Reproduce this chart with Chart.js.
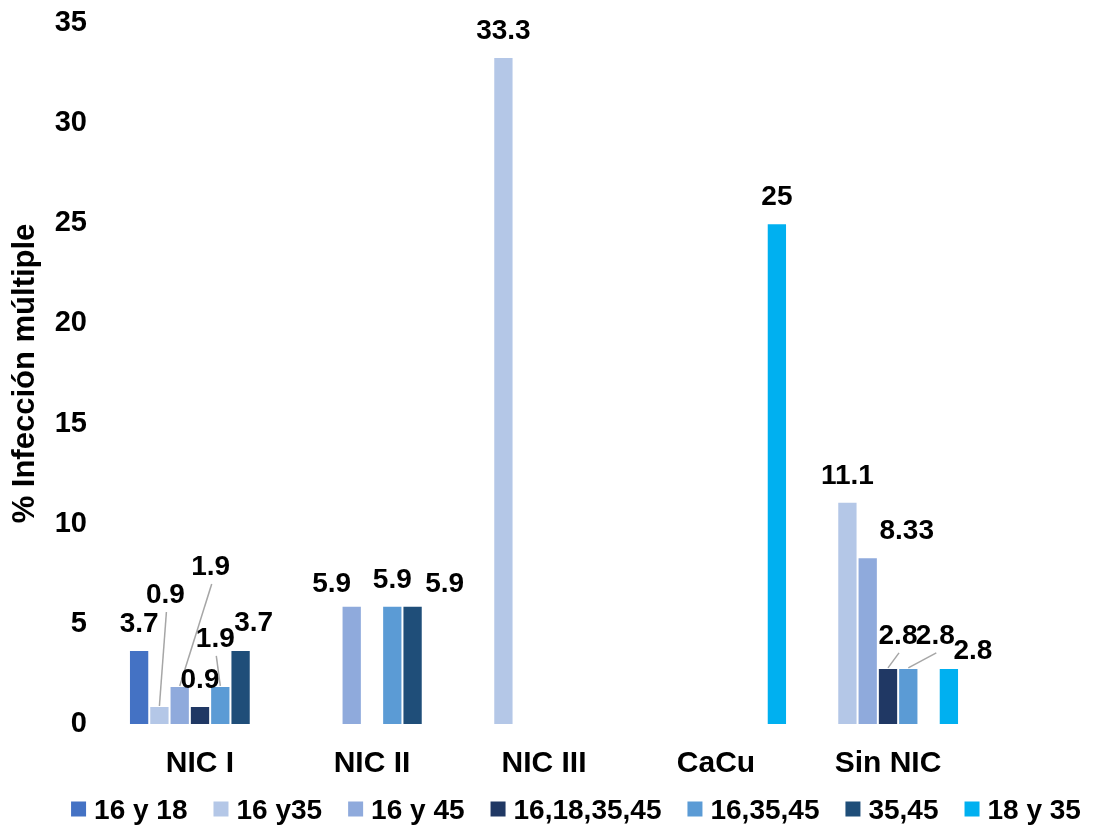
<!DOCTYPE html>
<html lang="es">
<head>
<meta charset="utf-8">
<title>% Infección múltiple por grupo</title>
<script src="https://cdn.jsdelivr.net/npm/chart.js@4/dist/chart.umd.min.js"></script>
<style>
  html, body { margin: 0; padding: 0; background: #ffffff; }
  #wrap { width: 1094px; height: 826px; }
</style>
</head>
<body>
<div id="wrap"><canvas id="chart" width="1094" height="826"></canvas></div>
<script>
// Categories (diagnóstico)
const categories = ['NIC I', 'NIC II', 'NIC III', 'CaCu', 'Sin NIC'];

// Series: % infección múltiple por combinación de genotipos
const seriesNames = ['16 y 18', '16 y35', '16 y 45', '16,18,35,45', '16,35,45', '35,45', '18 y 35'];
const v16y18      = [3.7, null, null, null, null];
const v16y35      = [0.9, null, 33.3, null, 11.1];
const v16y45      = [1.9, 5.9, null, null, 8.33];
const v16_18_35_45 = [0.9, null, null, null, 2.8];
const v16_35_45   = [1.9, 5.9, null, null, 2.8];
const v35_45      = [3.7, 5.9, null, null, null];
const v18y35      = [null, null, null, 25, 2.8];

// Y axis ticks
const yTicks = [0, 5, 10, 15, 20, 25, 30, 35];

const seriesValues = [v16y18, v16y35, v16y45, v16_18_35_45, v16_35_45, v35_45, v18y35];
const seriesColors = ['#4472C4', '#B4C7E7', '#8FAADC', '#203864', '#5B9BD5', '#1F4E79', '#00B0F0'];

const FONT = "'Liberation Sans', Arial, sans-serif";

// Label nudges (pixels) for crowded groups; key = "dataset:category"
const labelNudge = {
  '1:0': { dx: 6,  dy: -85, leader: true },
  '2:0': { dx: 31, dy: -93, leader: true },
  '4:0': { dx: -5, dy: -21, leader: true },
  '5:0': { dx: 13, dy: -1 },
  '2:1': { dx: -20, dy: 4 },
  '5:1': { dx: 32, dy: 4 },
  '2:4': { dx: 39, dy: 0 },
  '3:4': { dx: 10, dy: -6, leader: true },
  '4:4': { dx: 27, dy: -6, leader: true },
  '6:4': { dx: 24, dy: 9 }
};

// Value labels above bars, with leader lines where they are moved away
const valueLabels = {
  id: 'valueLabels',
  afterDatasetsDraw(chart) {
    const ctx = chart.ctx;
    ctx.save();
    ctx.font = 'bold 28px ' + FONT;
    ctx.textAlign = 'center';
    ctx.textBaseline = 'alphabetic';
    chart.data.datasets.forEach((ds, di) => {
      const meta = chart.getDatasetMeta(di);
      meta.data.forEach((bar, ci) => {
        const v = ds.data[ci];
        if (v === null || v === undefined) return;
        const n = labelNudge[di + ':' + ci] || { dx: 0, dy: 0 };
        const cx = bar.x + n.dx;
        const cy = bar.y - 28 + n.dy;   // visual centre of the digits
        if (n.leader) {
          ctx.strokeStyle = '#A6A6A6';
          ctx.lineWidth = 1.5;
          ctx.beginPath();
          ctx.moveTo(cx + 1, cy + 19);
          ctx.lineTo(bar.x, bar.y);
          ctx.stroke();
        }
        ctx.fillStyle = '#000000';
        ctx.fillText(String(v), cx, cy + 10);
      });
    });
    ctx.restore();
  }
};

// Legend row along the bottom
const bottomLegend = {
  id: 'bottomLegend',
  afterDraw(chart) {
    const ctx = chart.ctx;
    ctx.save();
    ctx.font = 'bold 28px ' + FONT;
    ctx.textBaseline = 'alphabetic';
    ctx.textAlign = 'left';
    const box = 15, boxGap = 8, itemGap = 26;
    const items = chart.data.datasets.map(ds => ({
      text: ds.label, color: ds.backgroundColor, w: ctx.measureText(ds.label).width
    }));
    const total = items.reduce((s, it) => s + box + boxGap + it.w, 0) + itemGap * (items.length - 1);
    let x = 576 - total / 2;
    const cy = 809;
    items.forEach(it => {
      ctx.fillStyle = it.color;
      ctx.fillRect(x, cy - box / 2, box, box);
      ctx.fillStyle = '#000000';
      ctx.fillText(it.text, x + box + boxGap, cy + 10);
      x += box + boxGap + it.w + itemGap;
    });
    ctx.restore();
  }
};

const datasets = seriesNames.map((name, i) => ({
  label: name,
  data: seriesValues[i],
  backgroundColor: seriesColors[i],
  borderColor: 'rgba(255,255,255,0.45)',
  borderWidth: 1,
  categoryPercentage: 0.826,
  barPercentage: 1.0,
  skipNull: false
}));

new Chart(document.getElementById('chart'), {
  type: 'bar',
  data: { labels: categories, datasets },
  plugins: [valueLabels, bottomLegend],
  options: {
    responsive: false,
    animation: false,
    devicePixelRatio: 1,
    layout: { padding: { top: 23, right: 120, bottom: 0, left: 0 } },
    plugins: {
      legend: { display: false },
      tooltip: { enabled: false },
      title: { display: false }
    },
    scales: {
      x: {
        grid: { display: false, drawTicks: false },
        border: { display: false },
        ticks: {
          color: '#000000',
          padding: 22,
          font: { family: FONT, size: 30, weight: 'bold' }
        },
        afterFit(scale) {
          scale.height = 102;
          scale.paddingLeft = 0;
          scale.paddingRight = 0;
        }
      },
      y: {
        min: 0,
        max: 35,
        afterBuildTicks(scale) { scale.ticks = yTicks.map(v => ({ value: v })); },
        grid: { display: false, drawTicks: false },
        border: { display: false },
        ticks: {
          color: '#000000',
          padding: 27,
          font: { family: FONT, size: 29, weight: 'bold' }
        },
        title: {
          display: true,
          text: '% Infección múltiple',
          color: '#000000',
          font: { family: FONT, size: 31, weight: 'bold', lineHeight: 1 },
          padding: { top: 10, bottom: 0 }
        },
        afterFit(scale) {
          scale.width = 114;
          scale.paddingTop = 0;
          scale.paddingBottom = 0;
        }
      }
    }
  }
});
</script>
</body>
</html>
